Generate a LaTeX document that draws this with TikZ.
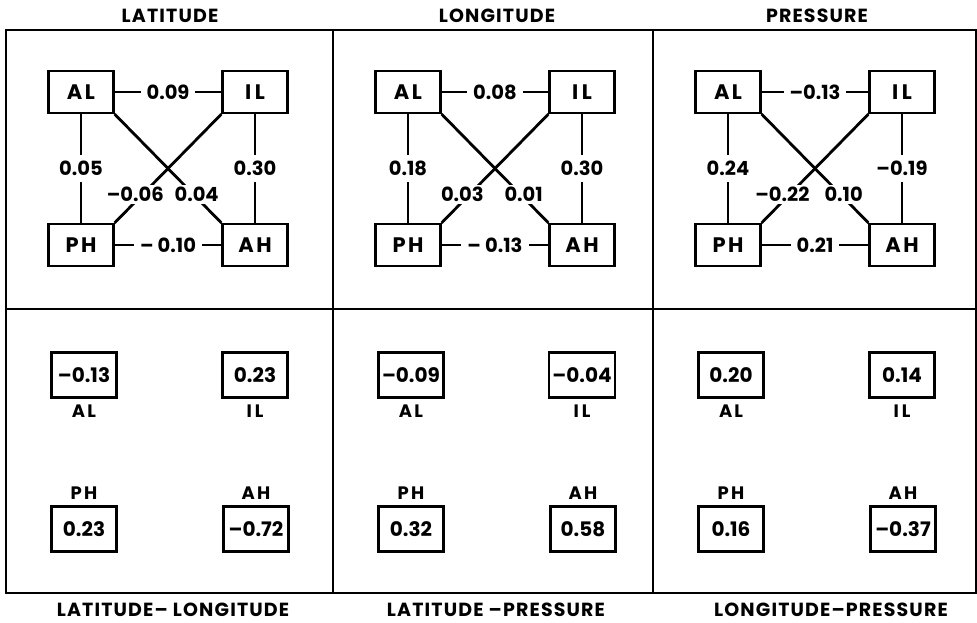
\documentclass[tikz,border=0pt]{standalone}
\usepackage{fontspec}
\setmainfont{Poppins}
\usetikzlibrary{positioning}

\begin{document}
\begin{tikzpicture}[x=1pt,y=-1pt,
  frame/.style={line width=2.6pt},
  var/.style={draw,line width=2.2pt,minimum width=65pt,minimum height=42pt,
    font=\fontsize{21}{24}\selectfont\bfseries\addfontfeatures{LetterSpace=12}},
  val/.style={draw,line width=2.2pt,minimum width=65pt,minimum height=45pt,
    font=\fontsize{20}{24}\selectfont\bfseries},
  wt/.style={fill=white,inner sep=6pt,font=\fontsize{19.5}{24}\selectfont\bfseries},
  link/.style={line width=2.8pt},
  tag/.style={inner sep=1pt,font=\fontsize{18}{20}\selectfont\bfseries\addfontfeatures{LetterSpace=12}},
  ttl/.style={font=\fontsize{19}{22}\selectfont\bfseries\addfontfeatures{LetterSpace=6}}]
  \useasboundingbox (0,0) rectangle (977,623);
  % frame and grid
  \draw[frame] (6,30) rectangle (976,593);
  \draw[frame] (6,309) -- (976,309);
  \draw[frame] (333,30) -- (333,593);
  \draw[frame] (653,30) -- (653,593);
  % top row: one diagram per variable
  \foreach \x/\name/\wai/\wap/\wip/\wah/\wih/\wph [count=\i] in
    {6/LATITUDE/0.09/0.05/--0.06/0.04/0.30/-- 0.10,
     333/LONGITUDE/0.08/0.18/0.03/0.01/0.30/-- 0.13,
     653/PRESSURE/--0.13/0.24/--0.22/0.10/--0.19/0.21} {
    \node[ttl] (t\i) at ({\x+164},16) {\name};
    \node[var] (al\i) at ({\x+75},92) {AL};
    \node[var] (il\i) at ({\x+249},92) {I\,L};
    \node[var] (ph\i) at ({\x+75},245) {PH};
    \node[var] (ah\i) at ({\x+249},245) {AH};
    \draw[link] (al\i) -- node[wt]{\wai} (il\i);
    \draw[link] (al\i) -- node[wt]{\wap} (ph\i);
    \draw[link] (il\i) -- node[wt]{\wih} (ah\i);
    \draw[link] (ph\i) -- node[wt]{\wph} (ah\i);
    \draw[link] (il\i.south west) -- node[wt,inner sep=2pt,pos=.74,xshift=-7pt]{\wip} (ph\i.north east);
    \draw[link] (al\i.south east) -- node[wt,inner sep=2pt,pos=.74,xshift=3pt]{\wah} (ah\i.north west);
  }
  % bottom row: values for each pair
  \foreach \x/\vai/\vil/\vph/\vah/\name/\nx [count=\i] in
    {6/--0.13/0.23/0.23/--0.72/LATITUDE-- LONGITUDE/173,
     333/--0.09/--0.04/0.32/0.58/LATITUDE --PRESSURE/496,
     653/0.20/0.14/0.16/--0.37/LONGITUDE--PRESSURE/831} {
    \node[val] (bal\i) at ({\x+78},375) {\vai};
    \node[val] (bil\i) at ({\x+249},375) {\vil};
    \node[val] (bph\i) at ({\x+78},529) {\vph};
    \node[val] (bah\i) at ({\x+250},529) {\vah};
    \node[tag,below=5pt of bal\i] (nal\i) {AL};
    \node[tag,below=5pt of bil\i] (nil\i) {I\,L};
    \node[tag,above=5pt of bph\i] (nph\i) {PH};
    \node[tag,above=5pt of bah\i] (nah\i) {AH};
    \node[ttl] (s\i) at (\nx,610) {\name};
  }
\end{tikzpicture}
\end{document}
